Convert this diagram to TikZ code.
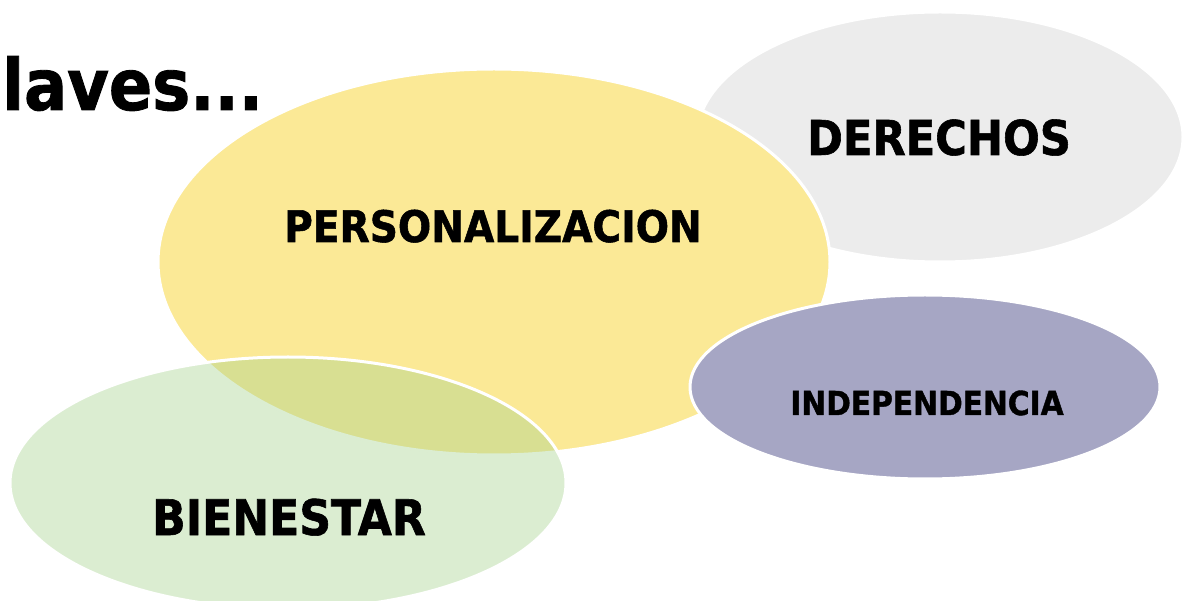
\documentclass[tikz,border=0pt]{standalone}
\usepackage{fontspec}
\setmainfont{DejaVu Sans}[FakeStretch=0.9, BoldFeatures={FakeBold=1.2}]
\usetikzlibrary{shapes.geometric}
\definecolor{ygold}{RGB}{251,233,150}
\definecolor{lgrey}{RGB}{236,236,236}
\definecolor{lpurple}{RGB}{166,166,196}
\definecolor{lgreen}{RGB}{165,210,140}
\tikzset{
  blob/.style={ellipse, draw=white, line width=3pt, inner sep=0pt},
  lbl/.style={anchor=base, inner sep=0pt, font=\bfseries}
}
\begin{document}
\begin{tikzpicture}[x=1pt,y=-1pt]
\useasboundingbox (0,0) rectangle (1184,601);
\node[blob, fill=lgrey, minimum width=486, minimum height=250] (der) at (940,137) {};
\node[blob, fill=ygold, minimum width=672, minimum height=386] (per) at (494,262) {};
\node[blob, fill=lpurple, minimum width=470, minimum height=184] (ind) at (925,387) {};
\node[blob, fill=lgreen, fill opacity=0.4, minimum width=556, minimum height=252] (bie) at (288,483) {};
\node[lbl, anchor=base west, font=\bfseries\fontsize{71}{80}\selectfont] (tit) at (2,110) {laves...};
\node[lbl, font=\bfseries\fontsize{43.5}{50}\selectfont] (tper) at (493,242) {PERSONALIZACION};
\node[lbl, font=\bfseries\fontsize{48}{55}\selectfont] (tder) at (939,155) {DERECHOS};
\node[lbl, font=\bfseries\fontsize{33}{40}\selectfont] (tind) at (927,415) {INDEPENDENCIA};
\node[lbl, font=\bfseries\fontsize{49}{56}\selectfont] (tbie) at (289,535) {BIENESTAR};
\end{tikzpicture}
\end{document}
